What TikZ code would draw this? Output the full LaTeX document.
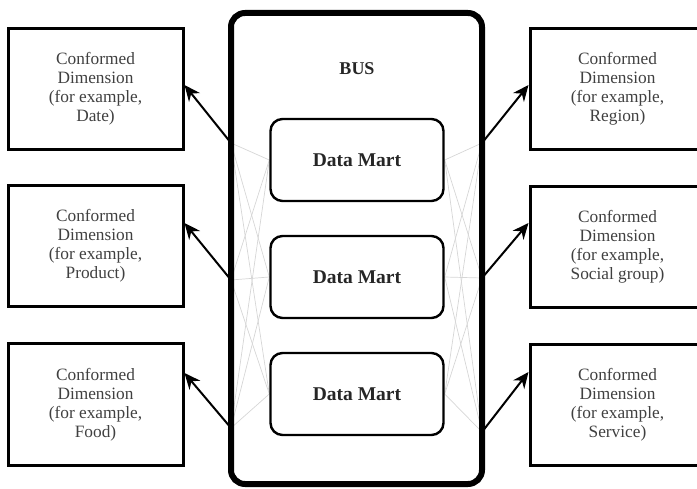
\documentclass[tikz,border=0pt]{standalone}
\usepackage{fontspec}
\setmainfont{Liberation Serif}
\usetikzlibrary{arrows.meta, backgrounds}

\begin{document}
\begin{tikzpicture}[x=1pt, y=-1pt,
  dimbox/.style={draw=black, line width=3pt, minimum width=175pt, minimum height=121pt, align=center, text=black!75, font=\fontsize{17.3}{19}\selectfont},
  martbox/.style={draw=black, line width=2.4pt, rounded corners=12pt, minimum width=173pt, minimum height=82pt, font=\fontsize{19.5}{22}\selectfont\bfseries, text=black!85},
  busbox/.style={draw=black, line width=6pt, rounded corners=14pt, minimum width=251pt, minimum height=471pt},
  buslabel/.style={font=\fontsize{18}{20}\selectfont\bfseries, text=black!85},
  arr/.style={-{Stealth[length=16pt, width=14pt]}, line width=2pt},
  wire/.style={draw=black!16, line width=0.7pt},
]
  \useasboundingbox (0,0) rectangle (697,489);
  \clip (0,0) rectangle (697,489);

  % Bus
  \node[busbox] (bus) at (356.5,248.5) {};
  \node[buslabel] (busname) at (357,69) {BUS};

  % Data marts
  \foreach \y/\n in {160/1, 277/2, 394/3} {
    \node[martbox] (mart\n) at (357,\y) {Data Mart};
  }

  % Conformed dimensions, left
  \node[dimbox] (dimL1) at (95.5,89) {Conformed\\Dimension\\(for example,\\Date)};
  \node[dimbox] (dimL2) at (95.5,246) {Conformed\\Dimension\\(for example,\\Product)};
  \node[dimbox] (dimL3) at (95.5,404.5) {Conformed\\Dimension\\(for example,\\Food)};

  % Conformed dimensions, right
  \node[dimbox] (dimR1) at (617.5,89) {Conformed\\Dimension\\(for example,\\Region)};
  \node[dimbox] (dimR2) at (617.5,247) {Conformed\\Dimension\\(for example,\\Social group)};
  \node[dimbox] (dimR3) at (617.5,405) {Conformed\\Dimension\\(for example,\\Service)};

  % Points on the bus
  \coordinate (busL1) at (231,143);
  \coordinate (busL2) at (231,280);
  \coordinate (busL3) at (231,428);
  \coordinate (busR1) at (482,143);
  \coordinate (busR2) at (482,278);
  \coordinate (busR3) at (482,432);

  % Faint links between bus and marts
  \begin{scope}[on background layer]
    \foreach \i in {1,2,3} {
      \foreach \j in {1,2,3} {
        \draw[wire] (busL\i) -- (mart\j.west);
        \draw[wire] (busR\i) -- (mart\j.east);
      }
    }
  \end{scope}

  % Arrows to dimensions
  \draw[arr] (busL1) -- ([yshift=4pt]dimL1.east);
  \draw[arr] (busL2) -- ([yshift=23pt]dimL2.east);
  \draw[arr] (busL3) -- ([yshift=31.5pt]dimL3.east);
  \draw[arr] (busR1) -- ([yshift=4pt]dimR1.west);
  \draw[arr] (busR2) -- ([yshift=24pt]dimR2.west);
  \draw[arr] (busR3) -- ([yshift=33pt]dimR3.west);
\end{tikzpicture}
\end{document}
